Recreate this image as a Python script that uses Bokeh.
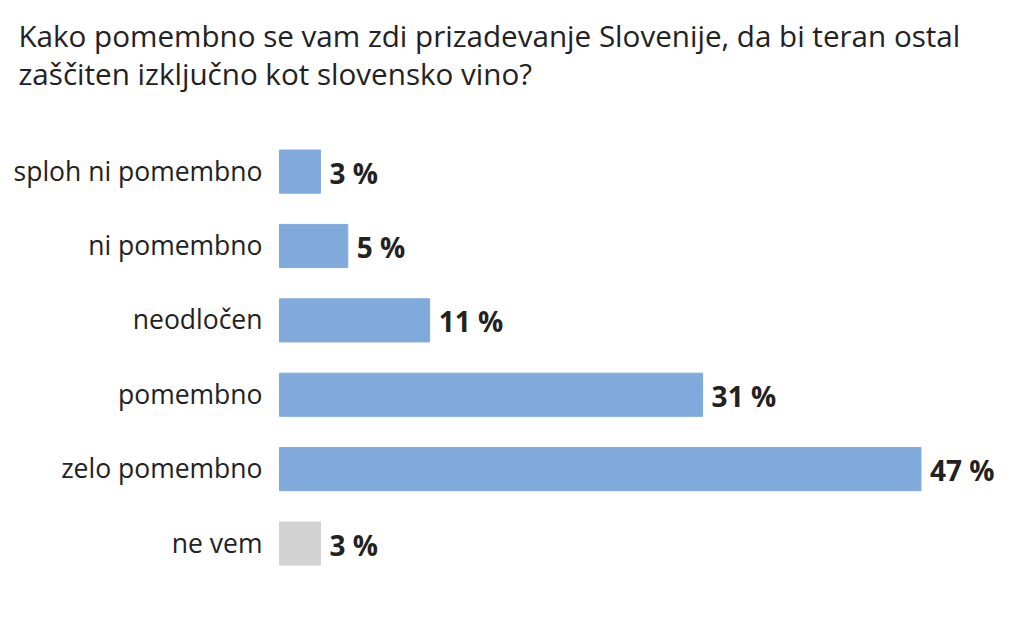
from bokeh.plotting import figure
from bokeh.models import Range1d, ColumnDataSource, Label
from bokeh.core.properties import value
from bokeh.embed import file_html
from bokeh.resources import INLINE

title_lines = ["Kako pomembno se vam zdi prizadevanje Slovenije, da bi teran ostal",
               "zaščiten izključno kot slovensko vino?"]
categories = ["sploh ni pomembno", "ni pomembno", "neodločen", "pomembno", "zelo pomembno", "ne vem"]
values = [3, 5, 11, 31, 47, 3]
colors = ["#80a9dc", "#80a9dc", "#80a9dc", "#80a9dc", "#80a9dc", "#d3d3d3"]

W, H = 1008, 607
FONT = "Open Sans"

ypos = list(range(len(categories)))
src = ColumnDataSource(dict(
    y=ypos, v=values, cat=categories, color=colors,
    lab=[f"{v} %" for v in values],
))

p = figure(width=W, height=H, output_backend="svg", toolbar_location=None,
           x_range=Range1d(-20.44, 53.41), y_range=Range1d(5.86, -2.30),
           min_border=0, outline_line_color=None)
p.xaxis.visible = False
p.yaxis.visible = False
p.grid.visible = False
p.background_fill_color = "white"

p.hbar(y="y", left=0, right="v", height=0.58, color="color", source=src)
p.text(x=0, y="y", text="cat", source=src, x_offset=-17, y_offset=-1, text_align="right",
       text_baseline="middle", text_font=value(FONT), text_font_size="26.5px",
       text_color="#222222")
p.text(x="v", y="y", text="lab", source=src, x_offset=9, y_offset=1, text_align="left",
       text_baseline="middle", text_font=value(FONT), text_font_size="28px",
       text_font_style="bold", text_color="#222222")

for i, line in enumerate(title_lines):
    p.add_layout(Label(x=18, y=H - 35 - 38 * i, x_units="screen", y_units="screen",
                       text=line, text_font=FONT, text_font_size="29.6px",
                       text_color="#222222", text_baseline="alphabetic"))

open("out.html", "w").write(file_html(p, INLINE))
